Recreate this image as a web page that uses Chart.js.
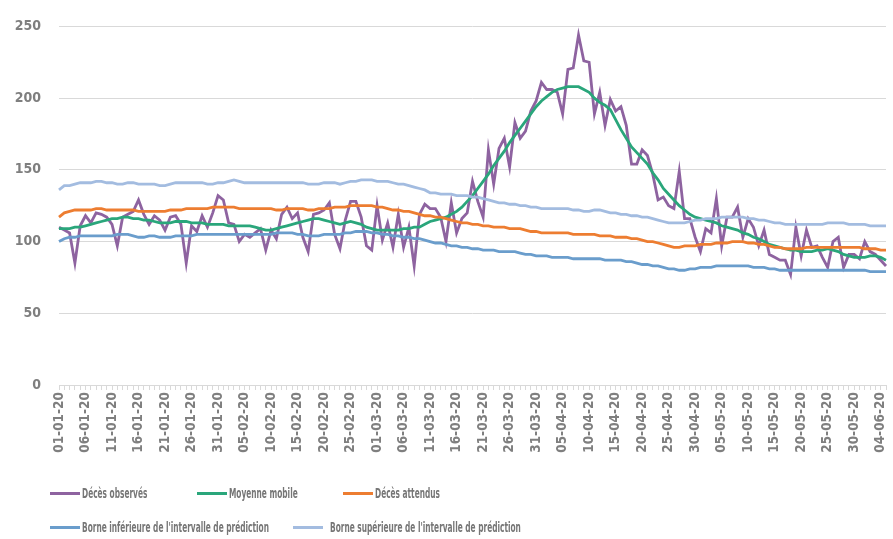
<!DOCTYPE html>
<html><head><meta charset="utf-8">
<script src="https://cdn.jsdelivr.net/npm/chart.js@4.4.1/dist/chart.umd.min.js"></script>
<style>
html,body{margin:0;padding:0;background:#fff;}
#wrap{position:relative;width:893px;height:539px;overflow:hidden;}
#c{position:absolute;left:0;top:0;}
.lg{position:absolute;height:16px;display:flex;align-items:center;white-space:nowrap;}
.sw{width:30px;height:3px;flex:none;}
.tx{font-family:'DejaVu Sans Condensed','DejaVu Sans',sans-serif;font-weight:bold;font-size:13.5px;color:#767676;transform:scaleX(0.61);transform-origin:left center;display:inline-block;}
</style></head>
<body><div id="wrap"><canvas id="c" width="893" height="539"></canvas><div id="legend"></div></div>
<script>
// ---- data ----
const startDate = [2020, 0, 1];
const dayCount = 157;
const tickStep = 5;

const observes = [
110,108,106,85,111,118,113,120,119,117,
112,97,117,119,121,129,119,112,118,115,
108,117,118,112,85,111,107,118,110,120,
132,129,113,112,100,105,103,106,109,94,
108,102,119,124,116,120,103,93,119,120,
122,127,105,95,115,128,128,117,97,94,
125,101,113,96,119,96,110,83,119,126,
123,123,117,100,127,106,116,120,142,128,
117,164,140,165,172,152,183,172,177,191,
198,211,206,206,204,189,220,221,244,226,
225,189,204,181,199,191,194,181,154,154,
164,160,147,129,131,125,123,149,116,116,
103,93,109,106,130,97,117,117,124,103,
116,110,97,108,91,89,87,87,77,110,
90,108,96,97,89,82,100,103,82,91,
91,88,100,93,91,87,83];

const moyenneMobile = [
109,109,109,110,110,111,112,113,114,115,
116,116,117,117,116,116,115,115,114,113,
113,113,114,114,114,113,113,113,112,112,
112,112,111,111,111,111,111,110,109,108,
108,109,110,111,112,113,114,115,116,116,
115,114,113,112,113,114,113,112,110,109,
108,108,108,108,108,109,109,110,110,112,
114,115,116,117,119,121,124,128,132,137,
142,147,153,158,163,169,174,179,184,189,
194,198,201,204,206,207,208,208,208,206,
204,200,197,195,192,185,178,172,166,162,
158,154,148,143,137,133,129,125,122,119,
117,116,115,114,113,111,110,109,108,106,
105,103,102,100,98,97,96,95,94,94,
93,93,93,94,94,95,94,93,91,90,
89,89,89,90,90,89,87];

const attendus = [
117,120,121,122,122,122,122,123,123,122,
122,122,122,122,122,121,121,121,121,121,
121,122,122,122,123,123,123,123,123,124,
124,124,124,124,123,123,123,123,123,123,
123,122,122,123,123,123,123,122,122,123,
123,123,124,124,124,125,125,125,125,125,
124,124,123,122,122,121,121,120,119,118,
118,117,117,116,115,114,113,113,112,112,
111,111,110,110,110,109,109,109,108,107,
107,106,106,106,106,106,106,105,105,105,
105,105,104,104,104,103,103,103,102,102,
101,100,100,99,98,97,96,96,97,97,
97,98,98,98,99,99,99,100,100,100,
99,99,98,98,97,96,96,95,95,95,
95,96,96,96,96,96,96,96,96,96,
96,96,95,95,95,94,94];

const borneInf = [
100,102,103,103,104,104,104,104,104,104,
104,105,105,105,104,103,103,104,104,103,
103,103,104,104,104,104,105,105,105,105,
105,105,105,105,105,105,105,105,105,105,
105,106,106,106,106,105,105,104,104,104,
105,105,105,105,106,106,107,107,107,106,
106,105,105,104,104,103,103,102,102,101,
100,99,99,98,97,97,96,96,95,95,
94,94,94,93,93,93,93,92,91,91,
90,90,90,89,89,89,89,88,88,88,
88,88,88,87,87,87,87,86,86,85,
84,84,83,83,82,81,81,80,80,81,
81,82,82,82,83,83,83,83,83,83,
83,82,82,82,81,81,80,80,80,80,
80,80,80,80,80,80,80,80,80,80,
80,80,80,79,79,79,79];

const borneSup = [
136,139,139,140,141,141,141,142,142,141,
141,140,140,141,141,140,140,140,140,139,
139,140,141,141,141,141,141,141,140,140,
141,141,142,143,142,141,141,141,141,141,
141,141,141,141,141,141,141,140,140,140,
141,141,141,140,141,142,142,143,143,143,
142,142,142,141,140,140,139,138,137,136,
134,134,133,133,133,132,132,132,131,131,
130,129,128,127,127,126,126,125,125,124,
124,123,123,123,123,123,123,122,122,121,
121,122,122,121,120,120,119,119,118,118,
117,117,116,115,114,113,113,113,113,114,
115,115,116,116,116,117,117,117,117,117,
116,116,115,115,114,113,113,112,112,112,
112,112,112,112,112,113,113,113,113,112,
112,112,112,111,111,111,111];

const seriesNames = ["Décès observés","Moyenne mobile","Décès attendus",
  "Borne inférieure de l'intervalle de prédiction","Borne supérieure de l'intervalle de prédiction"];
const yTicks = [0,50,100,150,200,250];

// categories: one per day, dd-mm-yy
const dates = [];
for (let i = 0; i < dayCount; i++) {
  const d = new Date(Date.UTC(startDate[0], startDate[1], startDate[2] + i));
  const dd = String(d.getUTCDate()).padStart(2,'0');
  const mm = String(d.getUTCMonth()+1).padStart(2,'0');
  const yy = String(d.getUTCFullYear()).slice(2);
  dates.push(dd + '-' + mm + '-' + yy);
}

// ---- styles ----
const colors = ['#8e63a0','#2aa67b','#ed7d31','#6a9dcc','#a3bce0'];
const values = [observes, moyenneMobile, attendus, borneInf, borneSup];
const tickFont = {family:"'DejaVu Sans Condensed', 'DejaVu Sans', sans-serif", weight:'bold'};

const datasets = values.map((v,k) => ({
  label: seriesNames[k], data: v, borderColor: colors[k], backgroundColor: colors[k],
  borderWidth: 2.8, pointRadius: 0, tension: 0, fill: false, order: 5 - k
}));

new Chart(document.getElementById('c'), {
  type: 'line',
  data: {labels: dates, datasets},
  options: {
    responsive: false, animation: false,
    layout: {padding: {top: 25, right: 0, left: 0, bottom: 0}},
    plugins: {legend: {display: false}, tooltip: {enabled: false}},
    scales: {
      x: {
        offset: false,
        grid: {drawOnChartArea: false, drawTicks: true, tickLength: 5, color: '#d9d9d9'},
        border: {color: '#d9d9d9', width: 1},
        ticks: {autoSkip: false, maxRotation: 90, minRotation: 90, padding: 2, color: '#7f7f7f',
          font: Object.assign({size: 13.5}, tickFont),
          callback: (v, i) => (i % tickStep === 0 ? dates[i] : '')},
        afterFit: s => { s.height = 154; s.paddingRight = 7; s.paddingLeft = 0; }
      },
      y: {
        min: 0, max: 250,
        afterBuildTicks: s => { s.ticks = yTicks.map(v => ({value: v})); },
        ticks: {padding: 18, color: '#7f7f7f', font: Object.assign({size: 14}, tickFont)},
        grid: {color: '#d9d9d9', drawTicks: false},
        border: {display: false},
        afterFit: s => { s.width = 59; }
      }
    }
  }
});

// ---- HTML legend ----
const legendPos = [[50,493,2],[197,493,2],[343,493,2],[50,527,2],[293,527,7]];
const lg = document.getElementById('legend');
seriesNames.forEach((name, k) => {
  const el = document.createElement('div');
  el.className = 'lg';
  el.style.left = legendPos[k][0] + 'px';
  el.style.top = (legendPos[k][1] - 8) + 'px';
  const sw = document.createElement('div');
  sw.className = 'sw'; sw.style.background = colors[k];
  sw.style.marginRight = legendPos[k][2] + 'px';
  const tx = document.createElement('span');
  tx.className = 'tx'; tx.textContent = name;
  el.appendChild(sw); el.appendChild(tx);
  lg.appendChild(el);
});
</script>
</body></html>
